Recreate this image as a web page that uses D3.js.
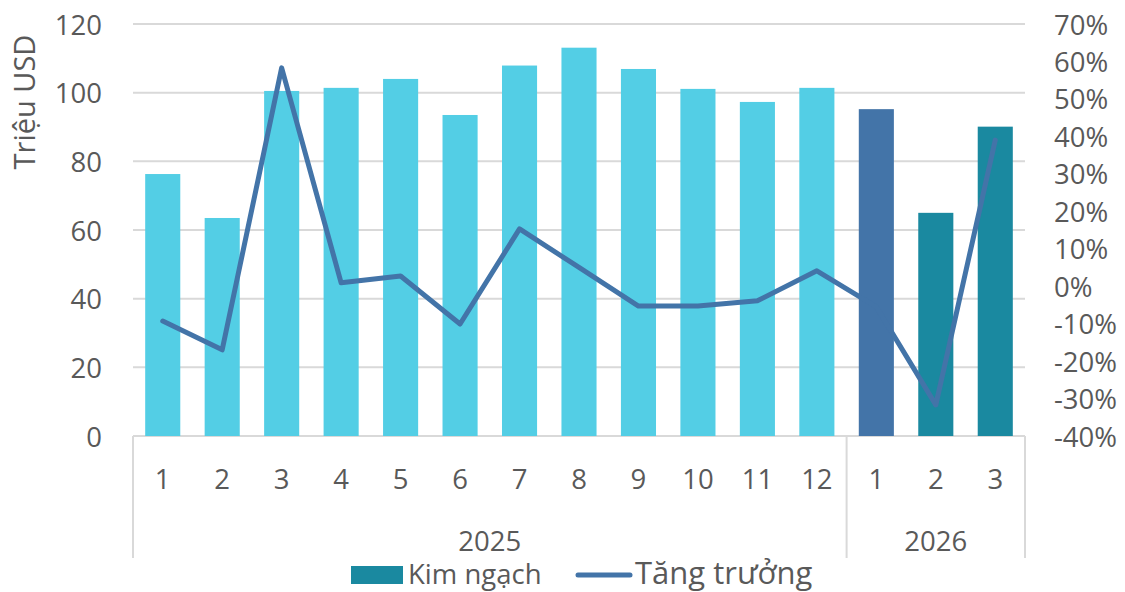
<!DOCTYPE html>
<html>
<head>
<meta charset="utf-8">
<script src="https://cdn.jsdelivr.net/npm/d3@7"></script>
<style>
  body { margin: 0; background: #fff; }
  svg text { font-family: "Open Sans", sans-serif; fill: #595959; }
</style>
</head>
<body>
<svg class="chart" width="1125" height="592"></svg>
<script>
const MONTHS = ["1","2","3","4","5","6","7","8","9","10","11","12","1","2","3"];
const YEARS = [{label: "2025", from: 0, to: 11}, {label: "2026", from: 12, to: 14}];
const KIM_NGACH = [76.3, 63.5, 100.5, 101.4, 104.0, 93.5, 107.9, 113.1, 106.9, 101.1, 97.3, 101.4, 95.2, 65.0, 90.1];
const TANG_TRUONG = [-0.093, -0.17, 0.583, 0.009, 0.027, -0.101, 0.153, 0.050, -0.053, -0.053, -0.039, 0.041, -0.055, -0.317, 0.39];
const LEFT_TICKS = [0, 20, 40, 60, 80, 100, 120];
const RIGHT_TICKS = [-0.4, -0.3, -0.2, -0.1, 0, 0.1, 0.2, 0.3, 0.4, 0.5, 0.6, 0.7];

const LIGHT = "#53cee5", DARK_BLUE = "#4374a8", TEAL = "#1a89a0", GRID = "#d9d9d9";
const PLOT = {left: 133, right: 1025, top: 24, bottom: 436};
const TICK_FONT = 27.5;

const barColor = i => i < 12 ? LIGHT : (i === 12 ? DARK_BLUE : TEAL);

const svg = d3.select("svg.chart");

const x = d3.scaleBand()
    .domain(d3.range(MONTHS.length))
    .range([PLOT.left, PLOT.right])
    .paddingInner(0.41)
    .paddingOuter(0.205);
const yLeft = d3.scaleLinear().domain([0, 120]).range([PLOT.bottom, PLOT.top]);
const yRight = d3.scaleLinear().domain([-0.4, 0.7]).range([PLOT.bottom, PLOT.top]);

// gridlines
svg.append("g").selectAll("line").data(LEFT_TICKS).enter().append("line")
    .attr("x1", PLOT.left).attr("x2", PLOT.right)
    .attr("y1", d => yLeft(d)).attr("y2", d => yLeft(d))
    .attr("stroke", GRID).attr("stroke-width", 2);

// category separators
const step = x.step();
const sepX = [PLOT.left, PLOT.left + step * 12, PLOT.right];
svg.append("g").selectAll("line").data(sepX).enter().append("line")
    .attr("x1", d => d).attr("x2", d => d)
    .attr("y1", PLOT.bottom).attr("y2", 558)
    .attr("stroke", GRID).attr("stroke-width", 2);

// bars
svg.append("g").selectAll("rect").data(KIM_NGACH).enter().append("rect")
    .attr("x", (d, i) => x(i))
    .attr("width", x.bandwidth())
    .attr("y", d => yLeft(d))
    .attr("height", d => yLeft(0) - yLeft(d))
    .attr("fill", (d, i) => barColor(i));

// growth line
const line = d3.line()
    .x((d, i) => x(i) + x.bandwidth() / 2)
    .y(d => yRight(d));
svg.append("path")
    .datum(TANG_TRUONG)
    .attr("d", line)
    .attr("fill", "none")
    .attr("stroke", DARK_BLUE)
    .attr("stroke-width", 5)
    .attr("stroke-linejoin", "round")
    .attr("stroke-linecap", "round");

// left axis labels
svg.append("g").selectAll("text").data(LEFT_TICKS).enter().append("text")
    .attr("x", 102).attr("y", d => yLeft(d))
    .attr("text-anchor", "end").attr("dominant-baseline", "central")
    .attr("font-size", TICK_FONT)
    .text(d => d);

// right axis labels
svg.append("g").selectAll("text").data(RIGHT_TICKS).enter().append("text")
    .attr("x", 1054).attr("y", d => yRight(d))
    .attr("dominant-baseline", "central")
    .attr("font-size", TICK_FONT)
    .text(d => Math.round(d * 100) + "%");

// axis title
svg.append("text")
    .attr("transform", "translate(35,102) rotate(-90)")
    .attr("text-anchor", "middle")
    .attr("font-size", 29)
    .text("Triệu USD");

// month labels
svg.append("g").selectAll("text").data(MONTHS).enter().append("text")
    .attr("x", (d, i) => x(i) + x.bandwidth() / 2)
    .attr("y", 478)
    .attr("text-anchor", "middle").attr("dominant-baseline", "central")
    .attr("font-size", TICK_FONT)
    .text(d => d);

// year labels
svg.append("g").selectAll("text").data(YEARS).enter().append("text")
    .attr("x", d => (PLOT.left + step * d.from + PLOT.left + step * (d.to + 1)) / 2)
    .attr("y", 540)
    .attr("text-anchor", "middle").attr("dominant-baseline", "central")
    .attr("font-size", TICK_FONT)
    .text(d => d.label);

// legend
const legend = svg.append("g");
legend.append("rect")
    .attr("x", 351).attr("y", 566).attr("width", 52).attr("height", 18)
    .attr("fill", TEAL);
legend.append("text")
    .attr("x", 408).attr("y", 584)
    .attr("font-size", 27.5)
    .text("Kim ngạch");
legend.append("line")
    .attr("x1", 578).attr("x2", 630).attr("y1", 575).attr("y2", 575)
    .attr("stroke", DARK_BLUE).attr("stroke-width", 5).attr("stroke-linecap", "round");
legend.append("text")
    .attr("x", 635).attr("y", 584)
    .attr("font-size", 31)
    .text("Tăng trưởng");
</script>
</body>
</html>
